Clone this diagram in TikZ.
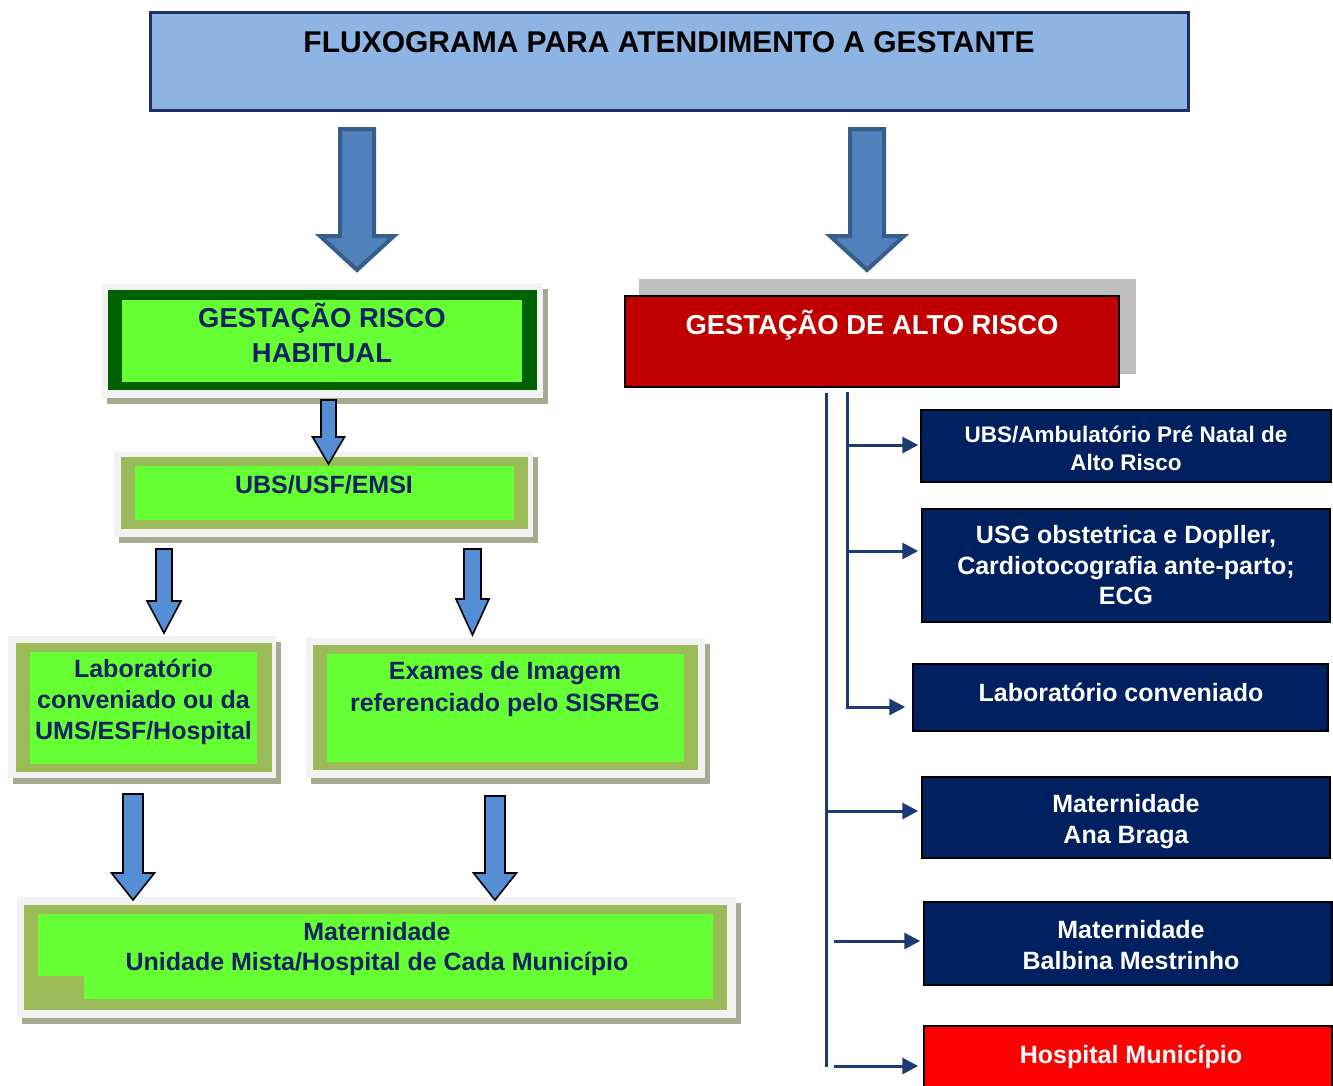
\documentclass[tikz,border=0pt]{standalone}
\usepackage{fontspec}
\setmainfont{Liberation Sans}
\usetikzlibrary{arrows.meta,fit,shadows}

\definecolor{titlefill}{HTML}{8EB4E3}
\definecolor{titleedge}{HTML}{1F2F66}
\definecolor{arrowfill}{HTML}{4F81BD}
\definecolor{arrowedge}{HTML}{385D8A}
\definecolor{smallfill}{HTML}{558ED5}
\definecolor{panelgray}{HTML}{F2F2F2}
\definecolor{shadowgray}{HTML}{A6AA91}
\definecolor{darkgreen}{HTML}{006100}
\definecolor{limegreen}{HTML}{66FF33}
\definecolor{framegreen}{HTML}{9BBB59}
\definecolor{navytext}{HTML}{0F2163}
\definecolor{altored}{HTML}{C00000}
\definecolor{altoshade}{HTML}{BFBFBF}
\definecolor{rightnavy}{HTML}{002060}
\definecolor{linecol}{HTML}{1C3A73}
\definecolor{hospred}{HTML}{FF0000}

% block arrow pointing down: style, x, top, tip, shaft half, head half, head start
\newcommand{\blockarrow}[7]{%
  \draw[#1] (#2-#5,#3) -- (#2+#5,#3) -- (#2+#5,#7) -- (#2+#6,#7) -- (#2,#4)
    -- (#2-#6,#7) -- (#2-#5,#7) -- cycle;}

\begin{document}
\begin{tikzpicture}[
    x=1pt, y=-1pt,
    >={Triangle[length=16pt,width=16pt]},
    every node/.style={inner sep=0pt},
    titlebox/.style={draw=titleedge, line width=3pt, fill=titlefill},
    panel/.style={fill=panelgray, drop shadow={shadow xshift=5pt, shadow yshift=-6pt, fill=shadowgray, opacity=1}},
    greentext/.style={text=navytext, align=center, font=\fontsize{25}{31}\selectfont\bfseries},
    navybox/.style={draw=black, line width=1.5pt, fill=rightnavy},
    whitetext/.style={text=white, align=center, font=\fontsize{25}{31}\selectfont\bfseries},
    trunk/.style={draw=linecol, line width=3pt},
    link/.style={trunk, ->},
    bigarrow/.style={fill=arrowfill, draw=arrowedge, line width=4pt},
    smallarrow/.style={fill=smallfill, draw=black, line width=1.6pt}
]
\useasboundingbox (0,0) rectangle (1333,1085);

% title
\node[titlebox, fit={(150.5,12.5) (1188.5,110.5)}] (title) {};
\node[font=\fontsize{30}{34}\selectfont\bfseries] (titletext) at (669,42) {FLUXOGRAMA PARA ATENDIMENTO A GESTANTE};

\blockarrow{bigarrow}{357}{129}{270}{17}{37}{236}
\blockarrow{bigarrow}{867}{129}{270}{17}{37}{236}

% risco habitual side
\node[panel, fit={(102,283) (543,398)}] (habpanel) {};
\node[fill=darkgreen, fit={(108,290) (537,390)}] (habitual) {};
\node[fill=limegreen, fit={(122,300) (522,382)}] (habinner) {};
\node[greentext, font=\fontsize{27.4}{35}\selectfont\bfseries] (habtext) at (322,333) {GESTAÇÃO RISCO\\HABITUAL};

\node[panel, fit={(114,451) (533,537)}] (ubspanel) {};
\node[fill=framegreen, fit={(121,457) (528,529)}] (ubs) {};
\node[fill=limegreen, fit={(135,466) (514,520)}] (ubsinner) {};
\node[greentext] (ubstext) at (324,485) {UBS/USF/EMSI};
\blockarrow{smallarrow}{328.5}{400}{464}{7.5}{16}{437}

\node[panel, fit={(8,636) (276,778)}] (labpanel) {};
\node[fill=framegreen, fit={(16,643) (272,772)}] (lab) {};
\node[fill=limegreen, fit={(30,652) (257,764)}] (labinner) {};
\node[greentext] (labtext) at (143.5,702) {Laboratório\\conveniado ou da\\UMS/ESF/Hospital};

\node[panel, fit={(306,638) (705,778)}] (exapanel) {};
\node[fill=framegreen, fit={(313,645) (698,770)}] (exames) {};
\node[fill=limegreen, fit={(327,654) (684,762)}] (exainner) {};
\node[greentext, font=\fontsize{25}{32}\selectfont\bfseries] (exatext) at (505,689.5) {Exames de Imagem\\referenciado pelo SISREG};

\blockarrow{smallarrow}{164}{549}{633}{8}{17}{601}
\blockarrow{smallarrow}{472.5}{549}{635}{8.5}{16.5}{599}

\node[panel, fit={(17,897) (736,1018)}] (matpanel) {};
\node[fill=framegreen, fit={(24,905) (727,1010)}] (maternidade) {};
\fill[limegreen] (38,914) -- (713,914) -- (713,999) -- (84,999) -- (84,976) -- (38,976) -- cycle;
\node[greentext, font=\fontsize{25}{30}\selectfont\bfseries] (mattext) at (377,949.5) {Maternidade\\Unidade Mista/Hospital de Cada Município};

\blockarrow{smallarrow}{133}{794}{900}{10}{21.5}{873}
\blockarrow{smallarrow}{495}{796}{900}{10}{21.5}{873}

% alto risco side
\node[fill=altoshade, fit={(639,279) (1136,374)}] (altoshadow) {};
\node[draw=black, line width=2pt, fill=altored, fit={(625,296) (1119,387)}] (altorisco) {};
\node[whitetext, font=\fontsize{27.4}{35}\selectfont\bfseries] (altotext) at (872,325) {GESTAÇÃO DE ALTO RISCO};

\node[navybox, fit={(921,410) (1331,482)}] (ubsar) {};
\node[whitetext, font=\fontsize{22.5}{28}\selectfont\bfseries] at (1126,448.6) {UBS/Ambulatório Pré Natal de\\Alto Risco};
\node[navybox, fit={(922,509) (1330,622)}] (usg) {};
\node[whitetext, font=\fontsize{25}{30.5}\selectfont\bfseries] at (1126,565.3) {USG obstetrica e Dopller,\\Cardiotocografia ante-parto;\\ECG};
\node[navybox, fit={(913,664) (1328,731)}] (labconv) {};
\node[whitetext] at (1121,692.3) {Laboratório conveniado};
\node[navybox, fit={(922,777) (1330,858)}] (anabraga) {};
\node[whitetext] at (1126,822) {Maternidade\\Ana Braga};
\node[navybox, fit={(924,902) (1332,985)}] (balbina) {};
\node[whitetext] at (1131,945.3) {Maternidade\\Balbina Mestrinho};
\node[navybox, fill=hospred, fit={(924,1026) (1332,1092)}] (hospmun) {};
\node[whitetext] at (1131,1057) {Hospital Município};

% connectors
\coordinate (atop) at (826,393);
\coordinate (abot) at (826,1067);
\coordinate (btop) at (847,392);
\coordinate (j1) at (847,445);
\coordinate (j2) at (847,551);
\coordinate (j3) at (847,707);
\coordinate (j4) at (826,811);
\coordinate (j5) at (834,941);
\coordinate (j6) at (834,1066);
\draw[trunk] (atop) -- (abot);
\draw[link, shorten >=7pt] (btop) -- (j3) -- (j3 -| labconv.west);
\draw[link, shorten >=2pt] (j1) -- (j1 -| ubsar.west);
\draw[link, shorten >=3pt] (j2) -- (j2 -| usg.west);
\draw[link, shorten >=3pt] (j4) -- (j4 -| anabraga.west);
\draw[link, shorten >=3pt] (j5) -- (j5 -| balbina.west);
\draw[link, shorten >=5pt] (j6) -- (j6 -| hospmun.west);
\end{tikzpicture}
\end{document}
